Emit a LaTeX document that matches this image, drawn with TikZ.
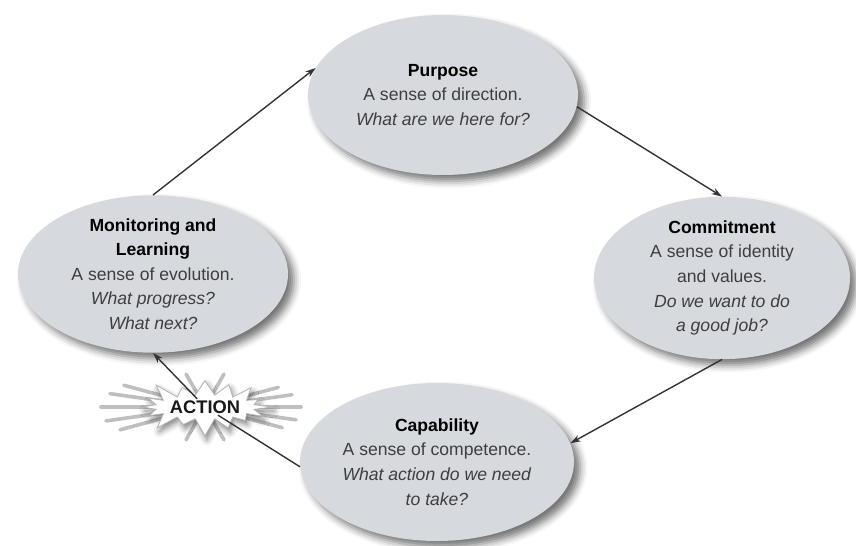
\documentclass[tikz,border=0pt]{standalone}
\usepackage{fontspec}
\setmainfont{Liberation Sans}
\usetikzlibrary{arrows.meta,shapes.geometric,shapes.symbols,shadows.blur}
\definecolor{ovalgrey}{RGB}{214,217,222}
\definecolor{bodytext}{RGB}{62,62,64}
\tikzset{
	oval/.style={ellipse, fill=ovalgrey, align=center, inner sep=0pt,
		font=\fontsize{12.5}{17.5}\selectfont, text=bodytext,
		blur shadow={shadow xshift=1.5mm, shadow yshift=-1.5mm, shadow opacity=55, shadow blur radius=1.8mm}},
	link/.style={-{Stealth[length=2.6mm,width=1.7mm]}, line width=0.35mm, draw=black!80},
	plain/.style={line width=0.35mm, draw=black!80},
}
\newcommand{\ttl}[1]{\textcolor{black}{\textbf{#1}}}

\begin{document}
\begin{tikzpicture}
			%%%%% START %%%%%
			\useasboundingbox (0,0) rectangle (21.4,13.625);
			
			\node[oval, minimum width=6.75cm, minimum height=4cm] (pur) at (11.075,11.25)
				{\ttl{Purpose}\\A sense of direction.\\\textit{What are we here for?}};
			\node[oval, minimum width=6.4cm, minimum height=3.9cm] (com) at (18.05,6.675)
				{\ttl{Commitment}\\A sense of identity\\and values.\\\textit{Do we want to do}\\\textit{a good job?}};
			\node[oval, minimum width=6.85cm, minimum height=3.95cm] (cap) at (10.925,2.075)
				{\ttl{Capability}\\A sense of competence.\\\textit{What action do we need}\\\textit{to take?}};
			\node[oval, minimum width=6.75cm, minimum height=3.8cm] (mon) at (3.825,6.775)
				{\ttl{Monitoring and}\\\ttl{Learning}\\A sense of evolution.\\\textit{What progress?}\\\textit{What next?}};
			
			% the burst behind ACTION
			\coordinate (burst) at (5.125,3.45);
			\foreach \a/\r in {0/2.4, 8/2.2, -8/2.3, 15/1.9, -15/2.0, 180/2.6, 172/2.4, 188/2.5, 165/2.1, 195/2.2, 60/0.95, 120/0.95, -60/0.95, -120/0.95}
				\draw[line width=0.9mm, color=black!25, line cap=round] (burst) -- ++(\a:\r);
			\node[starburst, starburst points=16, starburst point height=0.5cm, minimum width=3.5cm, minimum height=1.6cm,
				fill=white, draw=black!30, line width=0.2mm,
				blur shadow={shadow xshift=0.5mm, shadow yshift=-1mm, shadow opacity=50, shadow blur radius=1.5mm}] at (burst) {};
			\node[font=\fontsize{13}{15}\selectfont\bfseries, text=black!90, inner sep=1pt] (act) at (burst) {ACTION};
			
			\draw[link] (mon.north) -- (pur.168);
			\draw[link] (pur.355) -- (com.north);
			\draw[link] (com.south) -- (cap.8);
			\draw[plain] (cap.182) -- (act);
			\draw[link] (act) -- (mon.south);
			
			%%%%% END %%%%%
\end{tikzpicture}
\end{document}
